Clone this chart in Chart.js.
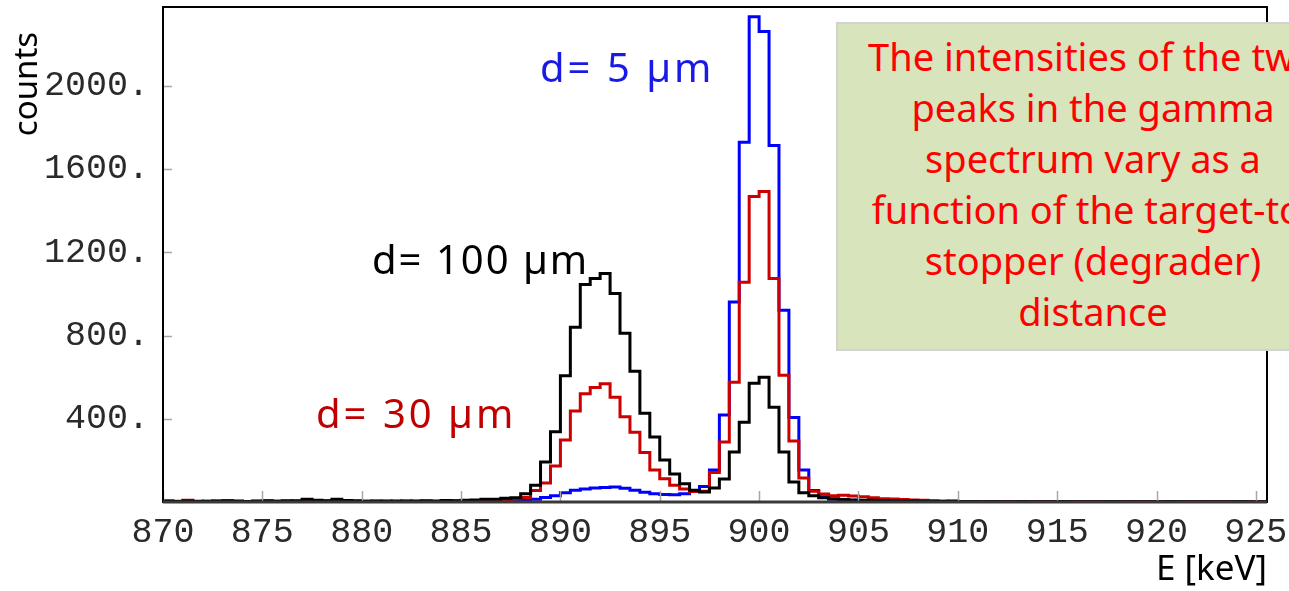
<!DOCTYPE html>
<html>
<head>
<meta charset="utf-8">
<title>Gamma spectrum vs. target-to-stopper distance</title>
<script src="https://cdn.jsdelivr.net/npm/chart.js@4.4.1/dist/chart.umd.min.js"></script>
<style>
    html, body { margin: 0; padding: 0; background: #fff; overflow: hidden; }
    #wrap { position: relative; width: 1289px; height: 591px; overflow: hidden; }
    #c { position: absolute; left: 0; top: 0; }
    .lbl { position: absolute; font-family: 'Noto Sans', sans-serif; white-space: nowrap;
           line-height: 1; font-size: 40px; letter-spacing: 3px; }
    #l5   { left: 540px; top: 47px;  color: #1a1ae6; }
    #l100 { left: 372px; top: 239px; color: #000; letter-spacing: 2px; }
    #l30  { left: 316px; top: 393px; color: #c00000; }
    #note { position: absolute; left: 836px; top: 22px; width: 510px; height: 318px;
            background: #d8e4bc; border: 2px solid #d2d2d2; box-sizing: content-box;
            font-family: 'Noto Sans', sans-serif; font-size: 38px; line-height: 51px;
            color: #ff0000; text-align: center; white-space: nowrap; padding-top: 7px; }
</style>
</head>
<body>
<div id="wrap">
    <canvas id="c" width="1289" height="591"></canvas>
    <div class="lbl" id="l5">d= 5 µm</div>
    <div class="lbl" id="l100">d= 100 µm</div>
    <div class="lbl" id="l30">d= 30 µm</div>
    <div id="note">The intensities of the two<br>peaks in the gamma<br>spectrum vary as a<br>function of the target-to-<br>stopper (degrader)<br>distance</div>
</div>
<script>
/* Spektrum gamma: 3 histogram (bin 0.5 keV, mulai 870 keV) */
var E_START = 870;
var BIN = 0.5;
var X_TICKS = [870, 875, 880, 885, 890, 895, 900, 905, 910, 915, 920, 925];
var Y_TICKS = [400, 800, 1200, 1600, 2000];

// d = 100 µm (hitam)
var d100 = [4, 3, 5, 4, 3, 4, 5, 4, 3, 4, 5, 4, 5, 6, 13, 8, 6, 13, 7, 5,
    4, 5, 4, 3, 5, 4, 6, 5, 7, 6, 8, 10, 13, 13, 18, 20,
    40, 80, 192, 338, 607, 840, 1046, 1075, 1099, 1003,
    811, 629, 427, 312, 202, 135, 88, 56, 48, 67,
    110, 240, 384, 571, 600, 456, 240, 96, 45, 30,
    20, 14, 12, 10, 9, 8, 7, 6, 5, 5, 4, 4, 3, 3, 2,
    2, 1, 2, 1, 1, 2, 1, 1, 1, 2, 1, 1, 1, 1, 2, 1, 1, 1, 1, 1,
    2, 1, 1, 1, 1, 1, 1, 2, 1, 1, 1];

// d = 30 µm (merah)
var d30 = [6, 4, 8, 3, 5, 4, 7, 4, 3, 5, 4, 3, 6, 4, 5, 4, 3, 5, 4, 6,
    3, 4, 5, 4, 3, 5, 4, 3, 4, 5, 4, 6, 5, 8, 10, 14,
    22, 55, 91, 173, 298, 437, 520, 550, 568, 504,
    410, 335, 238, 154, 112, 80, 62, 50, 52, 142,
    288, 576, 1056, 1469, 1493, 1075, 610, 293, 115, 52,
    38, 30, 33, 29, 25, 20, 16, 14, 12, 10, 8, 6, 5, 4, 3,
    3, 2, 2, 3, 2, 1, 2, 2, 1, 2, 1, 2, 1, 1, 2, 1, 1, 2, 1, 1,
    1, 1, 2, 1, 1, 1, 1, 1, 1, 2, 1];

// d = 5 µm (biru)
var d5 = [3, 2, 4, 3, 2, 5, 3, 4, 2, 3, 6, 4, 3, 2, 3, 4, 5, 3, 2, 3,
    4, 3, 2, 5, 4, 3, 2, 3, 4, 3, 2, 3, 4, 3, 4, 5,
    7, 13, 22, 30, 44, 56, 62, 67, 70, 72,
    66, 56, 47, 40, 36, 35, 40, 50, 75, 154,
    418, 962, 1730, 2333, 2262, 1714, 922, 406, 154, 55,
    25, 14, 10, 8, 7, 6, 6, 5, 4, 4, 3, 3, 3, 5, 2,
    2, 1, 2, 2, 1, 1, 2, 1, 1, 1, 2, 1, 1, 1, 1, 1, 2, 1, 1, 1,
    1, 1, 1, 2, 1, 1, 1, 1, 1, 1, 1];

var Y_TITLE = 'counts';
var X_TITLE = 'E [keV]';
var TICK_FONT = { family: "'Liberation Mono', monospace", size: 35 };

// titik di tepi kiri tiap bin + satu titik penutup di tepi kanan bin terakhir
function steps(vals) {
    var pts = vals.map(function (v, i) { return { x: E_START + i * BIN, y: v }; });
    pts.push({ x: E_START + vals.length * BIN, y: vals[vals.length - 1] });
    return pts;
}
function histo(label, vals, color) {
    return {
        label: label, data: steps(vals), borderColor: color, backgroundColor: color,
        borderWidth: 3, pointRadius: 0, stepped: 'before', fill: false
    };
}

// bingkai, tick ke dalam, judul sumbu-y
var framePlugin = {
    id: 'frame',
    afterDatasetsDraw: function (chart) {
        var ctx = chart.ctx, a = chart.chartArea;
        var xs = chart.scales.x, ys = chart.scales.y;
        ctx.save();
        ctx.strokeStyle = '#a8a8a8';
        ctx.lineWidth = 1.5;
        ctx.beginPath();
        Y_TICKS.forEach(function (v) {
            var y = Math.round(ys.getPixelForValue(v)) + 0.5;
            ctx.moveTo(a.left, y); ctx.lineTo(a.left + 9, y);
        });
        X_TICKS.forEach(function (v) {
            var x = Math.round(xs.getPixelForValue(v)) + 0.5;
            ctx.moveTo(x, a.bottom); ctx.lineTo(x, a.bottom - 11);
        });
        ctx.stroke();
        ctx.strokeStyle = '#000';
        ctx.lineWidth = 2;
        ctx.strokeRect(a.left, a.top, a.right - a.left, a.bottom - a.top);
        ctx.strokeStyle = '#3a3a3a';
        ctx.lineWidth = 3;
        ctx.beginPath();
        ctx.moveTo(a.left, a.bottom); ctx.lineTo(a.right, a.bottom);
        ctx.stroke();
        ctx.restore();
    },
    afterDraw: function (chart) {
        var ctx = chart.ctx;
        ctx.save();
        ctx.translate(37, 84);
        ctx.rotate(-Math.PI / 2);
        ctx.font = "33px 'Noto Sans', sans-serif";
        ctx.fillStyle = '#000';
        ctx.textAlign = 'center';
        ctx.textBaseline = 'alphabetic';
        ctx.fillText(Y_TITLE, 0, 0);
        ctx.restore();
    }
};

new Chart(document.getElementById('c'), {
    type: 'line',
    data: { datasets: [
        histo('d= 100 µm', d100, '#000000'),
        histo('d= 30 µm', d30, '#cc0000'),
        histo('d= 5 µm', d5, '#0000ff')
    ] },
    options: {
        responsive: false, animation: false, devicePixelRatio: 1,
        layout: { padding: { top: 7, right: 22, left: 0, bottom: 0 } },
        plugins: { legend: { display: false }, tooltip: { enabled: false } },
        scales: {
            x: {
                type: 'linear', min: 870, max: 925.56,
                afterBuildTicks: function (s) { s.ticks = X_TICKS.map(function (v) { return { value: v }; }); },
                afterFit: function (s) { s.height = 89; s.paddingLeft = 0; s.paddingRight = 0; },
                grid: { display: false, drawTicks: false },
                border: { display: false },
                ticks: { font: TICK_FONT, color: '#2a2a2a', padding: 10, maxRotation: 0, autoSkip: false,
                         callback: function (v) { return String(v); } },
                title: { display: true, text: X_TITLE, align: 'end', color: '#000',
                         font: { family: "'Noto Sans', sans-serif", size: 35 }, padding: { top: 0, bottom: 0 } }
            },
            y: {
                min: 0, max: 2380,
                afterBuildTicks: function (s) { s.ticks = Y_TICKS.map(function (v) { return { value: v }; }); },
                afterFit: function (s) { s.width = 163; s.paddingTop = 0; s.paddingBottom = 0; },
                grid: { display: false, drawTicks: false },
                border: { display: false },
                ticks: { font: TICK_FONT, color: '#2a2a2a', padding: 14,
                         callback: function (v) { return v + '.'; } }
            }
        }
    },
    plugins: [framePlugin]
});
</script>
</body>
</html>
